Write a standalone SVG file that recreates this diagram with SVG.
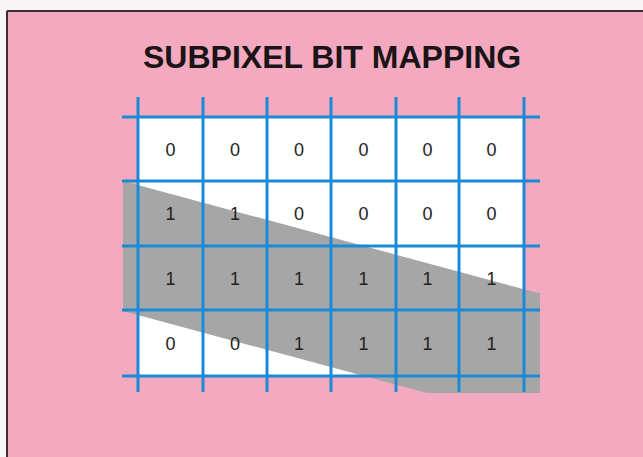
<svg xmlns="http://www.w3.org/2000/svg" width="643" height="457" viewBox="0 0 643 457">
  <style>
    .title { font-family: "Liberation Sans", Arial, sans-serif; font-weight: bold; font-size: 32px; fill: #1a1416; }
    .bit { font-family: "Liberation Sans", Arial, sans-serif; font-size: 18px; fill: #222; text-anchor: middle; }
    .grid line { stroke: #1b8ad6; stroke-width: 3; }
  </style>
  <rect x="0" y="0" width="643" height="457" fill="#f8f6f6"/>
  <rect x="7" y="11" width="636" height="446" fill="#f3a9bf"/>
  <line x1="7" y1="11" x2="643" y2="11" stroke="#3a3034" stroke-width="2"/>
  <line x1="7" y1="11" x2="7" y2="457" stroke="#3a3034" stroke-width="2"/>

  <g id="title">
    <text class="title" x="143" y="68">SUBPIXEL BIT MAPPING</text>
  </g>

  <g id="cells-background">
    <rect x="138" y="117" width="386" height="259" fill="#ffffff"/>
  </g>

  <g id="coverage-band">
    <polygon points="123,181 540,293.6 540,393 426.7,393 123,311" fill="#a6a6a6"/>
  </g>

  <g id="grid" class="grid">
    <line x1="122" y1="117" x2="540" y2="117"/>
    <line x1="122" y1="181" x2="540" y2="181"/>
    <line x1="122" y1="246" x2="540" y2="246"/>
    <line x1="122" y1="310" x2="540" y2="310"/>
    <line x1="122" y1="376" x2="540" y2="376"/>
    <line x1="138" y1="97" x2="138" y2="392"/>
    <line x1="203" y1="97" x2="203" y2="392"/>
    <line x1="267" y1="97" x2="267" y2="392"/>
    <line x1="331" y1="97" x2="331" y2="392"/>
    <line x1="396" y1="97" x2="396" y2="392"/>
    <line x1="459" y1="97" x2="459" y2="392"/>
    <line x1="524" y1="97" x2="524" y2="392"/>
  </g>

  <g id="row1">
    <text class="bit" x="170.5" y="156">0</text>
    <text class="bit" x="235" y="156">0</text>
    <text class="bit" x="299" y="156">0</text>
    <text class="bit" x="363.5" y="156">0</text>
    <text class="bit" x="427.5" y="156">0</text>
    <text class="bit" x="491.5" y="156">0</text>
  </g>
  <g id="row2">
    <text class="bit" x="170.5" y="220">1</text>
    <text class="bit" x="235" y="220">1</text>
    <text class="bit" x="299" y="220">0</text>
    <text class="bit" x="363.5" y="220">0</text>
    <text class="bit" x="427.5" y="220">0</text>
    <text class="bit" x="491.5" y="220">0</text>
  </g>
  <g id="row3">
    <text class="bit" x="170.5" y="285">1</text>
    <text class="bit" x="235" y="285">1</text>
    <text class="bit" x="299" y="285">1</text>
    <text class="bit" x="363.5" y="285">1</text>
    <text class="bit" x="427.5" y="285">1</text>
    <text class="bit" x="491.5" y="285">1</text>
  </g>
  <g id="row4">
    <text class="bit" x="170.5" y="350">0</text>
    <text class="bit" x="235" y="350">0</text>
    <text class="bit" x="299" y="350">1</text>
    <text class="bit" x="363.5" y="350">1</text>
    <text class="bit" x="427.5" y="350">1</text>
    <text class="bit" x="491.5" y="350">1</text>
  </g>
</svg>
